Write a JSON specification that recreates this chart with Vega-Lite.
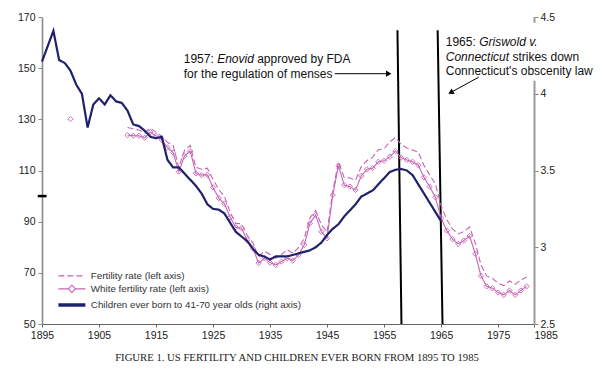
{
  "$schema": "https://vega.github.io/schema/vega-lite/v6.json",
  "width": 492,
  "height": 307,
  "autosize": {"type": "none"},
  "padding": {"left": 42, "top": 17, "right": 66, "bottom": 55},
  "background": "white",
  "config": {
    "view": {"stroke": null},
    "font": "Liberation Sans",
    "axis": {"grid": false, "labelFont": "Liberation Sans", "labelFontSize": 10.5, "labelColor": "#222"}
  },
  "title": {
    "text": "FIGURE 1. US FERTILITY AND CHILDREN EVER BORN FROM 1895 TO 1985",
    "orient": "bottom",
    "anchor": "middle",
    "frame": "group",
    "font": "Liberation Serif",
    "fontSize": 10.7,
    "fontWeight": "normal",
    "color": "#222",
    "offset": 12,
    "dx": 9
  },
  "datasets": {
    "main": [
      {"year": 1895, "ceb": 4.21},
      {"year": 1896, "ceb": 4.31},
      {"year": 1897, "ceb": 4.41},
      {"year": 1898, "ceb": 4.22},
      {"year": 1899, "ceb": 4.2},
      {"year": 1900, "ceb": 4.15, "white": 130.1},
      {"year": 1901, "ceb": 4.06},
      {"year": 1902, "ceb": 4.0},
      {"year": 1903, "ceb": 3.78},
      {"year": 1904, "ceb": 3.93},
      {"year": 1905, "ceb": 3.97},
      {"year": 1906, "ceb": 3.93},
      {"year": 1907, "ceb": 3.99},
      {"year": 1908, "ceb": 3.95},
      {"year": 1909, "ceb": 3.94},
      {"year": 1910, "ceb": 3.89, "fert": 126.8, "white": 123.8},
      {"year": 1911, "ceb": 3.8, "fert": 126.3, "white": 123.6},
      {"year": 1912, "ceb": 3.79, "fert": 125.8, "white": 123.6},
      {"year": 1913, "ceb": 3.76, "fert": 124.7, "white": 122.8},
      {"year": 1914, "ceb": 3.72, "fert": 126.6, "white": 125.0},
      {"year": 1915, "ceb": 3.71, "fert": 125.0, "white": 123.5},
      {"year": 1916, "ceb": 3.72, "fert": 123.4, "white": 122.0},
      {"year": 1917, "ceb": 3.57, "fert": 121.0, "white": 119.0},
      {"year": 1918, "ceb": 3.52, "fert": 119.8, "white": 117.0},
      {"year": 1919, "ceb": 3.52, "fert": 111.2, "white": 109.5},
      {"year": 1920, "ceb": 3.48, "fert": 117.9, "white": 115.7},
      {"year": 1921, "ceb": 3.44, "fert": 119.8, "white": 117.6},
      {"year": 1922, "ceb": 3.4, "fert": 111.2, "white": 108.9},
      {"year": 1923, "ceb": 3.35, "fert": 110.5, "white": 108.2},
      {"year": 1924, "ceb": 3.28, "fert": 110.9, "white": 108.3},
      {"year": 1925, "ceb": 3.25, "fert": 106.6, "white": 103.4},
      {"year": 1926, "ceb": 3.245, "fert": 102.6, "white": 99.2},
      {"year": 1927, "ceb": 3.22, "fert": 99.8, "white": 97.0},
      {"year": 1928, "ceb": 3.16, "fert": 93.8, "white": 91.7},
      {"year": 1929, "ceb": 3.1, "fert": 89.3, "white": 87.8},
      {"year": 1930, "ceb": 3.07, "fert": 89.2, "white": 87.4},
      {"year": 1931, "ceb": 3.04, "fert": 84.6, "white": 82.8},
      {"year": 1932, "ceb": 2.99, "fert": 81.7, "white": 79.5},
      {"year": 1933, "ceb": 2.95, "fert": 76.3, "white": 73.8},
      {"year": 1934, "ceb": 2.94, "fert": 78.5, "white": 75.7},
      {"year": 1935, "ceb": 2.92, "fert": 77.2, "white": 74.0},
      {"year": 1936, "ceb": 2.94, "fert": 75.8, "white": 73.1},
      {"year": 1937, "ceb": 2.94, "fert": 77.1, "white": 74.4},
      {"year": 1938, "ceb": 2.94, "fert": 79.1, "white": 75.7},
      {"year": 1939, "ceb": 2.95, "fert": 77.6, "white": 74.8},
      {"year": 1940, "ceb": 2.96, "fert": 79.9, "white": 77.0},
      {"year": 1941, "ceb": 2.97, "fert": 83.4, "white": 80.9},
      {"year": 1942, "ceb": 2.98, "fert": 91.5, "white": 89.4},
      {"year": 1943, "ceb": 3.0, "fert": 94.3, "white": 92.6},
      {"year": 1944, "ceb": 3.03, "fert": 88.8, "white": 86.1},
      {"year": 1945, "ceb": 3.08, "fert": 85.9, "white": 83.5},
      {"year": 1946, "ceb": 3.12, "fert": 101.9, "white": 100.4},
      {"year": 1947, "ceb": 3.15, "fert": 113.3, "white": 111.9},
      {"year": 1948, "ceb": 3.2, "fert": 107.3, "white": 104.3},
      {"year": 1949, "ceb": 3.24, "fert": 107.1, "white": 103.7},
      {"year": 1950, "ceb": 3.28, "fert": 106.2, "white": 102.4},
      {"year": 1951, "ceb": 3.33, "fert": 111.5, "white": 107.9},
      {"year": 1952, "ceb": 3.35, "fert": 113.9, "white": 110.5},
      {"year": 1953, "ceb": 3.37, "fert": 115.2, "white": 110.9},
      {"year": 1954, "ceb": 3.41, "fert": 118.1, "white": 113.4},
      {"year": 1955, "ceb": 3.45, "fert": 118.5, "white": 113.8},
      {"year": 1956, "ceb": 3.49, "fert": 121.2, "white": 115.4},
      {"year": 1957, "ceb": 3.505, "fert": 122.9, "white": 117.6},
      {"year": 1958, "ceb": 3.51, "fert": 120.2, "white": 115.0},
      {"year": 1959, "ceb": 3.5, "fert": 118.8, "white": 114.1},
      {"year": 1960, "ceb": 3.47, "fert": 118.0, "white": 113.4},
      {"year": 1961, "ceb": 3.41, "fert": 117.1, "white": 112.1},
      {"year": 1962, "ceb": 3.35, "fert": 112.0, "white": 107.3},
      {"year": 1963, "ceb": 3.29, "fert": 108.3, "white": 103.7},
      {"year": 1964, "ceb": 3.23, "fert": 104.7, "white": 99.5},
      {"year": 1965, "ceb": 3.17, "fert": 96.3, "white": 91.4},
      {"year": 1966, "fert": 90.8, "white": 86.5},
      {"year": 1967, "fert": 87.2, "white": 83.2},
      {"year": 1968, "fert": 85.2, "white": 81.3},
      {"year": 1969, "fert": 86.1, "white": 82.6},
      {"year": 1970, "fert": 87.9, "white": 84.4},
      {"year": 1971, "fert": 81.6, "white": 77.4},
      {"year": 1972, "fert": 73.1, "white": 68.8},
      {"year": 1973, "fert": 68.8, "white": 64.7},
      {"year": 1974, "fert": 67.8, "white": 64.0},
      {"year": 1975, "fert": 66.0, "white": 62.3},
      {"year": 1976, "fert": 65.0, "white": 61.4},
      {"year": 1977, "fert": 66.8, "white": 63.1},
      {"year": 1978, "fert": 65.5, "white": 61.4},
      {"year": 1979, "fert": 67.2, "white": 63.1},
      {"year": 1980, "fert": 68.4, "white": 64.7}
    ]
  },
  "layer": [
    {
      "layer": [
        {
          "data": {"values": [
            {"year": 1957.35, "year2": 1958.05, "top": 164.8, "bottom": 50},
            {"year": 1964.4, "year2": 1965.25, "top": 164.8, "bottom": 50}
          ]},
          "mark": {"type": "rule", "color": "#000", "strokeWidth": 2},
          "encoding": {
            "x": {"field": "year", "type": "quantitative", "scale": {"domain": [1895, 1981.3], "nice": false, "zero": false}, "title": null},
            "x2": {"field": "year2"},
            "y": {"field": "top", "type": "quantitative", "scale": {"domain": [50, 170], "nice": false, "zero": false}, "title": null},
            "y2": {"field": "bottom"}
          }
        },
        {
          "data": {"name": "main"},
          "transform": [
            {"fold": ["fert", "white"], "as": ["series", "rate"]},
            {"filter": "isValid(datum.rate) && datum.year >= 1905"}
          ],
          "mark": {"type": "line", "strokeWidth": 1.1},
          "encoding": {
            "x": {
              "field": "year", "type": "quantitative",
              "scale": {"domain": [1895, 1981.3], "nice": false, "zero": false},
              "title": null,
              "axis": {
                "values": [1895, 1905, 1915, 1925, 1935, 1945, 1955, 1965, 1975, 1981.3],
                "format": "d",
                "labelExpr": "datum.value > 1980 ? '1985' : datum.label",
                "labelAlign": {"condition": {"test": "datum.value > 1980", "value": "left"}, "value": "center"},
                "labelFlush": false,
                "labelOverlap": false,
                "tickSize": 3,
                "labelPadding": 3,
                "domainColor": "#666",
                "domainWidth": 1.2,
                "tickColor": "#666",
                "title": null
              }
            },
            "y": {
              "field": "rate", "type": "quantitative",
              "scale": {"domain": [50, 170], "nice": false, "zero": false},
              "title": null,
              "axis": {
                "values": [50, 70, 90, 110, 130, 150, 170],
                "format": "d",
                "tickSize": 4,
                "labelPadding": 3,
                "domainColor": "#8a8a8a",
                "domainWidth": 1.6,
                "tickColor": "#8a8a8a",
                "title": null
              }
            },
            "color": {
              "field": "series", "type": "nominal",
              "scale": {"domain": ["fert", "white", "ceb"], "range": ["#c862b6", "#c862b6", "#1f216c"]},
              "legend": {
                "orient": "none",
                "legendX": 25,
                "legendY": 254,
                "title": null,
                "padding": 0,
                "symbolType": "stroke",
                "symbolSize": 729,
                "symbolStrokeWidth": 1.2,
                "labelFont": "Liberation Sans",
                "labelFontSize": 9.8,
                "labelColor": "#333",
                "labelOffset": 14,
                "labelLimit": 400,
                "rowPadding": 2,
                "labelExpr": "datum.label == 'fert' ? 'Fertility rate (left axis)' : datum.label == 'white' ? 'White fertility rate (left axis)' : 'Children ever born to 41-70 year olds (right axis)'",
                "encode": {
                  "symbols": {
                    "update": {
                      "shape": {"signal": "datum.value === 'white' ? 'M-1,0H-0.27M0.27,0H1M0,-0.27L0.27,0L0,0.27L-0.27,0Z' : 'stroke'"},
                      "strokeDash": {"signal": "datum.value === 'fert' ? [6,4] : [1,0]"},
                      "strokeWidth": {"signal": "datum.value === 'ceb' ? 3.5 : 1.1"},
                      "fill": {"value": "transparent"}
                    }
                  }
                }
              }
            },
            "strokeDash": {
              "field": "series", "type": "nominal",
              "scale": {"domain": ["fert", "white", "ceb"], "range": [[6, 3], [1, 0], [1, 0]]},
              "legend": null
            }
          }
        },
        {
          "data": {"name": "main"},
          "transform": [{"filter": "isValid(datum.white)"}],
          "mark": {"type": "point", "shape": "diamond", "filled": false, "size": 28, "strokeWidth": 0.9, "color": "#c862b6", "opacity": 1},
          "encoding": {
            "x": {"field": "year", "type": "quantitative", "scale": {"domain": [1895, 1981.3], "nice": false, "zero": false}, "title": null},
            "y": {"field": "white", "type": "quantitative", "scale": {"domain": [50, 170], "nice": false, "zero": false}, "title": null}
          }
        },
        {
          "data": {"values": [{"year": 1894.25, "year2": 1895.8, "v": 100}]},
          "mark": {"type": "rule", "color": "#000", "strokeWidth": 2.5},
          "encoding": {
            "x": {"field": "year", "type": "quantitative", "scale": {"domain": [1895, 1981.3], "nice": false, "zero": false}, "title": null},
            "x2": {"field": "year2"},
            "y": {"field": "v", "type": "quantitative", "scale": {"domain": [50, 170], "nice": false, "zero": false}, "title": null}
          }
        },
        {
          "data": {"values": [
            {"year": 1946.35, "year2": 1955.9, "v": 147.84, "v2": 147.84},
            {"year": 1971.61, "year2": 1966.61, "v": 146.48, "v2": 140.4}
          ]},
          "mark": {"type": "rule", "color": "#000", "strokeWidth": 1},
          "encoding": {
            "x": {"field": "year", "type": "quantitative", "scale": {"domain": [1895, 1981.3], "nice": false, "zero": false}, "title": null},
            "x2": {"field": "year2"},
            "y": {"field": "v", "type": "quantitative", "scale": {"domain": [50, 170], "nice": false, "zero": false}, "title": null},
            "y2": {"field": "v2"}
          }
        },
        {
          "data": {"values": [{"year": 1955.82, "v": 147.84}]},
          "mark": {"type": "point", "shape": "triangle-right", "filled": true, "size": 40, "color": "#000", "opacity": 1},
          "encoding": {
            "x": {"field": "year", "type": "quantitative", "scale": {"domain": [1895, 1981.3], "nice": false, "zero": false}, "title": null},
            "y": {"field": "v", "type": "quantitative", "scale": {"domain": [50, 170], "nice": false, "zero": false}, "title": null}
          }
        },
        {
          "data": {"values": [{"year": 1966.7, "v": 140.5}]},
          "mark": {"type": "point", "shape": "triangle-up", "angle": 241, "filled": true, "size": 40, "color": "#000", "opacity": 1},
          "encoding": {
            "x": {"field": "year", "type": "quantitative", "scale": {"domain": [1895, 1981.3], "nice": false, "zero": false}, "title": null},
            "y": {"field": "v", "type": "quantitative", "scale": {"domain": [50, 170], "nice": false, "zero": false}, "title": null}
          }
        },
        {
          "data": {"values": [
            {"year": 1919.86, "v": 153.5, "t": "1957:"},
            {"year": 1919.86, "v": 147.84, "t": "for the regulation of menses"},
            {"year": 1965.82, "v": 160.13, "t": "1965:"},
            {"year": 1965.82, "v": 148.82, "t": "Connecticut's obscenity law"}
          ]},
          "mark": {"type": "text", "align": "left", "baseline": "middle", "font": "Liberation Sans", "fontSize": 12, "color": "#111"},
          "encoding": {
            "x": {"field": "year", "type": "quantitative", "scale": {"domain": [1895, 1981.3], "nice": false, "zero": false}, "title": null},
            "y": {"field": "v", "type": "quantitative", "scale": {"domain": [50, 170], "nice": false, "zero": false}, "title": null},
            "text": {"field": "t"}
          }
        },
        {
          "data": {"values": [
            {"year": 1919.86, "v": 153.5, "t": "Enovid"},
            {"year": 1965.82, "v": 160.13, "t": "Griswold v."}
          ]},
          "mark": {"type": "text", "align": "left", "baseline": "middle", "font": "Liberation Sans", "fontSize": 12, "fontStyle": "italic", "color": "#111", "dx": 33.4},
          "encoding": {
            "x": {"field": "year", "type": "quantitative", "scale": {"domain": [1895, 1981.3], "nice": false, "zero": false}, "title": null},
            "y": {"field": "v", "type": "quantitative", "scale": {"domain": [50, 170], "nice": false, "zero": false}, "title": null},
            "text": {"field": "t"}
          }
        },
        {
          "data": {"values": [{"year": 1919.86, "v": 153.5, "t": "approved by FDA"}]},
          "mark": {"type": "text", "align": "left", "baseline": "middle", "font": "Liberation Sans", "fontSize": 12, "color": "#111", "dx": 73.4},
          "encoding": {
            "x": {"field": "year", "type": "quantitative", "scale": {"domain": [1895, 1981.3], "nice": false, "zero": false}, "title": null},
            "y": {"field": "v", "type": "quantitative", "scale": {"domain": [50, 170], "nice": false, "zero": false}, "title": null},
            "text": {"field": "t"}
          }
        },
        {
          "data": {"values": [{"year": 1965.82, "v": 154.47, "t": "Connecticut"}]},
          "mark": {"type": "text", "align": "left", "baseline": "middle", "font": "Liberation Sans", "fontSize": 12, "fontStyle": "italic", "color": "#111"},
          "encoding": {
            "x": {"field": "year", "type": "quantitative", "scale": {"domain": [1895, 1981.3], "nice": false, "zero": false}, "title": null},
            "y": {"field": "v", "type": "quantitative", "scale": {"domain": [50, 170], "nice": false, "zero": false}, "title": null},
            "text": {"field": "t"}
          }
        },
        {
          "data": {"values": [{"year": 1965.82, "v": 154.47, "t": "strikes down"}]},
          "mark": {"type": "text", "align": "left", "baseline": "middle", "font": "Liberation Sans", "fontSize": 12, "color": "#111", "dx": 66.7},
          "encoding": {
            "x": {"field": "year", "type": "quantitative", "scale": {"domain": [1895, 1981.3], "nice": false, "zero": false}, "title": null},
            "y": {"field": "v", "type": "quantitative", "scale": {"domain": [50, 170], "nice": false, "zero": false}, "title": null},
            "text": {"field": "t"}
          }
        }
      ]
    },
    {
      "data": {"name": "main"},
      "transform": [{"filter": "isValid(datum.ceb)"}],
      "mark": {"type": "line", "strokeWidth": 2.2},
      "encoding": {
        "x": {"field": "year", "type": "quantitative", "scale": {"domain": [1895, 1981.3], "nice": false, "zero": false}, "title": null},
        "y": {
          "field": "ceb", "type": "quantitative",
          "scale": {"domain": [2.5, 4.5], "nice": false, "zero": false},
          "title": null,
          "axis": {
            "orient": "right",
            "values": [2.5, 3, 3.5, 4, 4.5],
            "format": "~g",
            "tickSize": 4,
            "labelPadding": 2,
            "domainColor": "#999",
            "domainWidth": 2,
            "domainDash": [243.7, 58, 20],
            "tickColor": "#888",
            "title": null
          }
        },
        "color": {"datum": "ceb", "type": "nominal"},
        "strokeDash": {"datum": "ceb", "type": "nominal"}
      }
    }
  ],
  "resolve": {"scale": {"y": "independent"}}
}
